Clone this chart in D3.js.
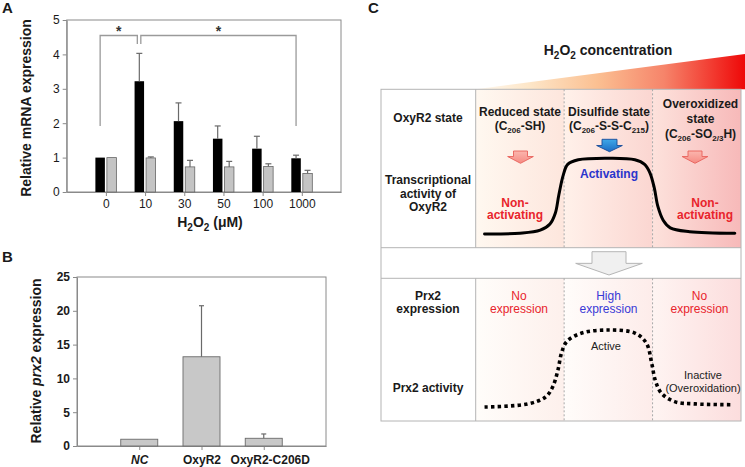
<!DOCTYPE html>
<html><head><meta charset="utf-8">
<script src="https://cdn.jsdelivr.net/npm/d3@7"></script>
<style>
body{margin:0;background:#fff}
svg{display:block;font-family:"Liberation Sans",Arial,Helvetica,sans-serif}
</style></head><body>
<svg id="c" width="745" height="467"></svg>
<script>
// ---------- Panel A data ----------
const doseLabels = ["0","10","30","50","100","1000"];
const oxyR2Mean  = [1.00, 3.22, 2.06, 1.55, 1.26, 0.98];
const oxyR2Err   = [0.00, 0.81, 0.53, 0.37, 0.36, 0.09];
const prx2Mean   = [1.00, 0.99, 0.73, 0.73, 0.74, 0.54];
const prx2Err    = [0.00, 0.03, 0.19, 0.16, 0.08, 0.09];
const tickA      = [0, 1, 2, 3, 4, 5];
const sigPairs   = [["0","10"],["10","1000"]];
// ---------- Panel B data ----------
const strainLabels = ["NC","OxyR2","OxyR2-C206D"];
const prx2Rel      = [1.0, 13.2, 1.14];
const prx2RelErr   = [0.0, 7.55, 0.64];
const tickB        = [0, 5, 10, 15, 20, 25];
// ---------- Panel C data ----------
const leftRowLabels = [["OxyR2 state"],["Transcriptional","activity of","OxyR2"],["Prx2","expression"],["Prx2 activity"]];
const stateNames = [["Reduced state","(C_{206}-SH)"],["Disulfide state","(C_{206}-S-S-C_{215})"],["Overoxidized","state","(C_{206}-SO_{2/3}H)"]];
const transcriptText = [["Non-","activating"],["Activating"],["Non-","activating"]];
const expressionText = [["No","expression"],["High","expression"],["No","expression"]];
// x in H2O2 column units (0..3), y = relative level (0..1)
const activityCurve = [[0.10,0.00],[0.50,0.01],[0.73,0.05],[0.84,0.13],[0.90,0.27],[0.94,0.51],[0.99,0.77],[1.04,0.91],[1.16,0.97],[1.52,0.99],[1.80,0.97],[1.91,0.91],[1.97,0.80],[2.02,0.60],[2.06,0.36],[2.12,0.18],[2.20,0.08],[2.42,0.03],[2.93,0.01]];
const prx2ActivityCurve = [[0.10,0.00],[0.59,0.04],[0.79,0.13],[0.87,0.26],[0.93,0.48],[0.97,0.70],[1.03,0.85],[1.20,0.96],[1.50,1.00],[1.80,0.96],[1.93,0.83],[1.99,0.57],[2.03,0.35],[2.10,0.18],[2.25,0.07],[2.48,0.04],[2.91,0.03]];

const svg = d3.select("#c");
const defs = svg.append("defs");
const AX = "#8a8a8a";

function rich(t, str, subSize, shift){
  const parts = str.split(/(_\{[^}]*\})/).filter(s=>s.length);
  let inSub=false;
  parts.forEach(p=>{
    if(p.startsWith("_{")){
      const s=t.append("tspan").attr("font-size",subSize).text(p.slice(2,-1));
      if(!inSub) s.attr("dy",shift);
      inSub=true;
    } else {
      const s=t.append("tspan").text(p);
      if(inSub){ s.attr("dy",-shift); inSub=false; }
    }
  });
  return t;
}
function label(g,x,y,str,o={}){
  const size=o.size||12;
  const t=g.append("text").attr("x",x).attr("y",y)
    .attr("text-anchor",o.anchor||"middle")
    .attr("font-size",size)
    .attr("font-weight",o.weight||"bold")
    .attr("fill",o.fill||"#1a1a1a");
  if(o.transform) t.attr("transform",o.transform);
  return rich(t,str,o.sub||Math.round(size*0.66),o.shift||size*0.3);
}
function styleAxis(g,bold){
  g.attr("font-family",null).attr("font-size",12);
  g.selectAll("path.domain").attr("stroke",AX);
  g.selectAll(".tick line").attr("stroke",AX);
  g.selectAll(".tick text").attr("fill","#1a1a1a").attr("font-weight",bold?"bold":"normal");
}

// ================= Panel A =================
const xA = d3.scalePoint().domain(doseLabels).range([66.7,341]).padding(1);
const yA = d3.scaleLinear().domain([0,5]).range([192,20]);
const gA = svg.append("g");
gA.append("rect").attr("x",xA.range()[0]).attr("y",yA(5))
  .attr("width",xA.range()[1]-xA.range()[0]).attr("height",yA(0)-yA(5))
  .attr("fill","none").attr("stroke",AX);
styleAxis(gA.append("g").attr("transform",`translate(0,${yA(0)})`)
  .call(d3.axisBottom(xA).tickSize(4).tickSizeOuter(0)),false);
styleAxis(gA.append("g").attr("transform",`translate(${xA.range()[0]},0)`)
  .call(d3.axisLeft(yA).tickValues(tickA).tickFormat(d3.format("d")).tickSize(4).tickSizeOuter(0)),false);

const rowsA = doseLabels.map((d,i)=>({d,m:oxyR2Mean[i],e:oxyR2Err[i],m2:prx2Mean[i],e2:prx2Err[i]}));
const bw=9.5;
const bx = d=>xA(d)-10.5, gx = d=>xA(d)+1;
gA.selectAll("rect.blk").data(rowsA).join("rect").attr("class","blk")
  .attr("x",r=>bx(r.d)).attr("width",bw).attr("y",r=>yA(r.m)).attr("height",r=>yA(0)-yA(r.m))
  .attr("fill","#000");
gA.selectAll("rect.gry").data(rowsA).join("rect").attr("class","gry")
  .attr("x",r=>gx(r.d)).attr("width",bw).attr("y",r=>yA(r.m2)).attr("height",r=>yA(0)-yA(r.m2))
  .attr("fill","#c4c4c4").attr("stroke","#666").attr("stroke-width",0.8);
function errBars(g,data,cx,val,err,ys,cap){
  const f=data.filter(r=>err(r)>0);
  g.selectAll(null).data(f).join("line").attr("x1",cx).attr("x2",cx)
    .attr("y1",r=>ys(val(r))).attr("y2",r=>ys(val(r)+err(r))).attr("stroke","#6a6a6a").attr("stroke-width",1.2);
  g.selectAll(null).data(f).join("line").attr("x1",r=>cx(r)-cap/2).attr("x2",r=>cx(r)+cap/2)
    .attr("y1",r=>ys(val(r)+err(r))).attr("y2",r=>ys(val(r)+err(r))).attr("stroke","#6a6a6a").attr("stroke-width",1.2);
}
errBars(gA,rowsA,r=>bx(r.d)+bw/2,r=>r.m,r=>r.e,yA,6);
errBars(gA,rowsA,r=>gx(r.d)+bw/2,r=>r.m2,r=>r.e2,yA,6);

// significance brackets
const brTop=yA(4.55), legLow=yA(1.92), legShort=yA(4.3);
sigPairs.forEach((p,i)=>{
  const x1 = bx(p[0])+bw/2 + (i===1?1.5:0);
  const x2 = bx(p[1])+bw/2 - (i===0?2:0);
  const y1 = i===0?legLow:legShort, y2 = i===0?legShort:legLow;
  gA.append("path").attr("d",`M${x1},${y1}V${brTop}H${x2}V${y2}`)
    .attr("fill","none").attr("stroke","#9a9a9a").attr("stroke-width",1.3);
  gA.append("text").attr("x",(x1+x2)/2).attr("y",brTop+1).attr("text-anchor","middle")
    .attr("font-size",14).attr("font-weight","bold").attr("fill","#333").text("*");
});
label(gA,210,227,"H_{2}O_{2} (μM)",{size:14,sub:10,shift:4});
label(gA,31,(yA(0)+yA(5))/2+2,"Relative mRNA expression",{size:14,transform:`rotate(-90,31,${(yA(0)+yA(5))/2+2})`});
label(gA,2,13,"A",{size:15,anchor:"start"});

// ================= Panel B =================
const xB = d3.scalePoint().domain(strainLabels).range([77,326]).padding(1);
const yB = d3.scaleLinear().domain([0,25]).range([446,277]);
const gB = svg.append("g");
gB.append("rect").attr("x",xB.range()[0]).attr("y",yB(25))
  .attr("width",xB.range()[1]-xB.range()[0]).attr("height",yB(0)-yB(25))
  .attr("fill","none").attr("stroke",AX);
const axB = gB.append("g").attr("transform",`translate(0,${yB(0)})`)
  .call(d3.axisBottom(xB).tickSize(4).tickPadding(5).tickSizeOuter(0));
styleAxis(axB,true);
axB.selectAll(".tick text").attr("font-style",d=>d==="NC"?"italic":"normal")
  .attr("dx",d=>d==="OxyR2-C206D"?"6":"0");
styleAxis(gB.append("g").attr("transform",`translate(${xB.range()[0]},0)`)
  .call(d3.axisLeft(yB).tickValues(tickB).tickSize(4).tickSizeOuter(0)),true);
const rowsB = strainLabels.map((d,i)=>({d,m:prx2Rel[i],e:prx2RelErr[i]}));
const bwB=37;
gB.selectAll("rect.bar").data(rowsB).join("rect").attr("class","bar")
  .attr("x",r=>xB(r.d)-bwB/2).attr("width",bwB).attr("y",r=>yB(r.m)).attr("height",r=>yB(0)-yB(r.m))
  .attr("fill","#c8c8c8").attr("stroke","#6a6a6a").attr("stroke-width",0.9);
errBars(gB,rowsB,r=>xB(r.d),r=>r.m,r=>r.e,yB,5);
const tB = gB.append("text").attr("transform",`rotate(-90,40.5,361)`).attr("x",40.5).attr("y",361)
  .attr("text-anchor","middle").attr("font-size",14).attr("font-weight","bold").attr("fill","#1a1a1a");
tB.append("tspan").text("Relative ");
tB.append("tspan").attr("font-style","italic").text("prx2");
tB.append("tspan").text(" expression");
label(gB,2,262,"B",{size:15,anchor:"start"});

// ================= Panel C =================
const gC = svg.append("g");
label(gC,368,13,"C",{size:15,anchor:"start"});
const xC = d3.scaleLinear().domain([0,3]).range([475.7,741]);
const T = {left:381, top:89.3, mid1:247.7, mid2:278.3, bottom:421};
const yAct = d3.scaleLinear().domain([0,1]).range([234,157.5]);
const yPrx = d3.scaleLinear().domain([0,1]).range([407,330]);

// wedge
const wg = defs.append("linearGradient").attr("id","wedge").attr("x1",0).attr("x2",1).attr("y1",0).attr("y2",0);
[[0,"#fff9f0"],[0.2,"#fde6c8"],[0.45,"#fbc092"],[0.7,"#f6846a"],[0.88,"#f23a30"],[1,"#ee0808"]]
  .forEach(s=>wg.append("stop").attr("offset",s[0]).attr("stop-color",s[1]));
gC.append("path").attr("d",`M${xC(0)},${T.top}L745,54L745,${T.top}Z`).attr("fill","url(#wedge)");
label(gC,608,55,"H_{2}O_{2} concentration",{size:14,sub:10,shift:4});

// column backgrounds
const upperG=[["#fff8f0","#fde6dd"],["#fff1ea","#fbd6d1"],["#fde2dc","#f7b9b9"]];
const lowerG=[["#fffdfa","#fdf0ec"],["#fffcfa","#fdecea"],["#fef4f2","#fcdddd"]];
[0,1,2].forEach(i=>{
  [["u",upperG,T.top,T.mid1],["l",lowerG,T.mid2,T.bottom]].forEach(([k,G,y0,y1])=>{
    const lg=defs.append("linearGradient").attr("id",`bg${k}${i}`).attr("x1",0).attr("x2",1).attr("y1",0).attr("y2",0);
    lg.append("stop").attr("offset",0).attr("stop-color",G[i][0]);
    lg.append("stop").attr("offset",1).attr("stop-color",G[i][1]);
    gC.append("rect").attr("x",xC(i)).attr("y",y0).attr("width",xC(i+1)-xC(i)).attr("height",y1-y0)
      .attr("fill",`url(#bg${k}${i})`);
  });
});
// grid lines
const GL="#b4b4b4";
gC.append("rect").attr("x",T.left).attr("y",T.top).attr("width",xC(3)-T.left).attr("height",T.bottom-T.top)
  .attr("fill","none").attr("stroke",GL);
[T.mid1,T.mid2].forEach(y=>gC.append("line").attr("x1",T.left).attr("x2",xC(3)).attr("y1",y).attr("y2",y).attr("stroke",GL));
[[T.top,T.mid1],[T.mid2,T.bottom]].forEach(([a,b])=>{
  gC.append("line").attr("x1",xC(0)).attr("x2",xC(0)).attr("y1",a).attr("y2",b).attr("stroke",GL);
  [1,2].forEach(i=>gC.append("line").attr("x1",xC(i)).attr("x2",xC(i)).attr("y1",a).attr("y2",b)
    .attr("stroke","#a8a8a8").attr("stroke-dasharray","2,2"));
});

// left labels
const leftPos=[[122],[183.5,197.5,211],[300,313],[391.5]];
leftRowLabels.forEach((lines,i)=>lines.forEach((s,j)=>label(gC,428,leftPos[i][j],s)));

// state labels
const colCx=[520,609,700.5];
const stateY=[[116,129.5],[116,129.5],[108,122.5,137.5]];
stateNames.forEach((lines,i)=>lines.forEach((s,j)=>label(gC,colCx[i],stateY[i][j],s,{sub:8,shift:3})));

// arrows
function blockArrow(cx,y0,h,w,sw,headFrac){
  const yh=y0+h*headFrac;
  return `M${cx-sw/2},${y0}H${cx+sw/2}V${yh}H${cx+w/2}L${cx},${y0+h}L${cx-w/2},${yh}H${cx-sw/2}Z`;
}
const blueG=defs.append("linearGradient").attr("id","blueArr").attr("x1",0).attr("x2",0).attr("y1",0).attr("y2",1);
blueG.append("stop").attr("offset",0).attr("stop-color","#3fa8e8");
blueG.append("stop").attr("offset",1).attr("stop-color","#1c6cc4");
const redG=defs.append("linearGradient").attr("id","redArr").attr("x1",0).attr("x2",0).attr("y1",0).attr("y2",1);
redG.append("stop").attr("offset",0).attr("stop-color","#fbb6ae");
redG.append("stop").attr("offset",1).attr("stop-color","#f58a82");
gC.append("path").attr("d",blockArrow(520.5,151,12.3,25.7,14,0.45)).attr("fill","url(#redArr)").attr("stroke","#e8605a").attr("stroke-width",0.9);
gC.append("path").attr("d",blockArrow(695,151,12.3,25.7,14,0.45)).attr("fill","url(#redArr)").attr("stroke","#e8605a").attr("stroke-width",0.9);
gC.append("path").attr("d",blockArrow(609.5,139.3,12.4,25.7,15,0.5)).attr("fill","url(#blueArr)").attr("stroke","#1a4c9a").attr("stroke-width",0.9);
gC.append("path").attr("d",blockArrow(609,251.7,23.3,66.6,34,0.5)).attr("fill","#f0f0f0").attr("stroke","#b5b5b5").attr("stroke-width",1);

// transcriptional activity texts
const RED="#e8242c", BLUE="#2a35cc";
const trPos=[[[515,206.5],[515,219]],[[609,177.5]],[[705,206.5],[705,219]]];
transcriptText.forEach((lines,i)=>lines.forEach((s,j)=>label(gC,trPos[i][j][0],trPos[i][j][1],s,{fill:i===1?BLUE:RED})));
const exCx=[519,608.5,699.5];
expressionText.forEach((lines,i)=>lines.forEach((s,j)=>label(gC,exCx[i],[300,313][j],s,{weight:"normal",fill:i===1?"#3a3ad6":RED})));

// curves
const lineAct=d3.line().x(d=>xC(d[0])).y(d=>yAct(d[1])).curve(d3.curveCatmullRom.alpha(0.5));
const linePrx=d3.line().x(d=>xC(d[0])).y(d=>yPrx(d[1])).curve(d3.curveCatmullRom.alpha(0.5));
gC.append("path").attr("d",lineAct(activityCurve)).attr("fill","none").attr("stroke","#000").attr("stroke-width",3).attr("stroke-linecap","round");
gC.append("path").attr("d",linePrx(prx2ActivityCurve)).attr("fill","none").attr("stroke","#000").attr("stroke-width",3.6).attr("stroke-dasharray","3.4,3.2");

label(gC,606,350,"Active",{size:11,weight:"normal",fill:"#222"});
label(gC,703,379,"Inactive",{size:11,weight:"normal",fill:"#222"});
label(gC,703,391.5,"(Overoxidation)",{size:11,weight:"normal",fill:"#222"});
</script>
</body></html>
